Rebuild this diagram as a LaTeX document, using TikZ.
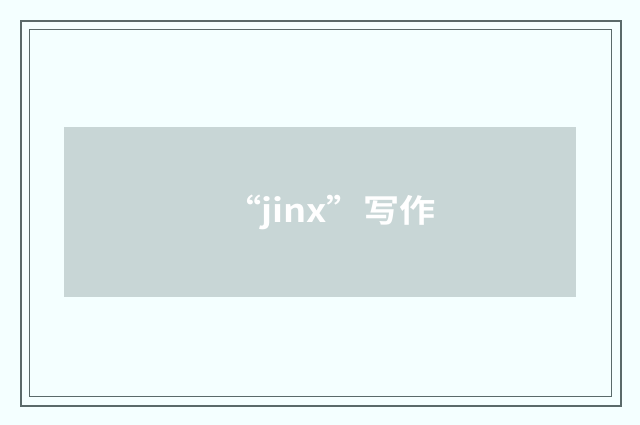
\documentclass[tikz,border=0pt]{standalone}
\usepackage{fontspec}
\newfontfamily\cjk{Noto Sans CJK SC}[BoldFont={* Bold},BoldFeatures={FakeStretch=1.13}]
\definecolor{bgc}{HTML}{F4FFFF}
\definecolor{framec}{HTML}{5A6A6A}
\definecolor{boxc}{HTML}{C8D6D6}
\tikzset{
  outerframe/.style={draw=framec,line width=2pt},
  innerframe/.style={draw=framec,line width=1pt},
  titlebox/.style={fill=boxc,draw=none},
  titletext/.style={text=white,font=\cjk\bfseries\fontsize{32}{38}\selectfont,inner sep=0pt}
}
\begin{document}
\begin{tikzpicture}[x=1pt,y=-1pt]
\fill[bgc] (0,0) rectangle (640,425);
\useasboundingbox (0,0) rectangle (640,425);
\draw[outerframe] (21,21) rectangle (621,406);
\draw[innerframe] (29.5,29.5) rectangle (611.5,396.5);
\path[titlebox] (64,127) rectangle (576,297);
\node[titletext,anchor=base west] (title) at (225,222) {“jinx”写作};
\end{tikzpicture}
\end{document}
